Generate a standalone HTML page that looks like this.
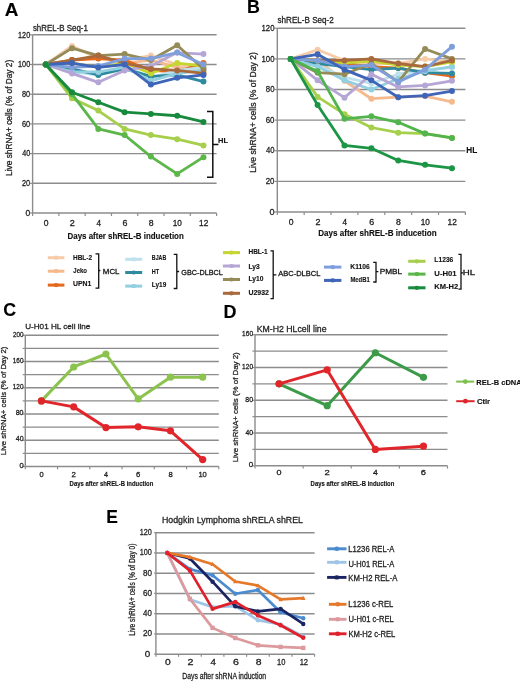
<!DOCTYPE html>
<html><head><meta charset="utf-8"><style>
html,body{margin:0;padding:0;background:#fff;}
body{width:520px;height:681px;overflow:hidden;}
svg{display:block;font-family:"Liberation Sans", sans-serif;will-change:transform;}
</style></head><body>
<svg width="520" height="681" viewBox="0 0 520 681">
<rect width="520" height="681" fill="#fff"/>
<text x="4.73" y="15.70" font-size="18.5" font-weight="bold" stroke="#000" stroke-width="0.12" fill="#000" textLength="13.67" lengthAdjust="spacingAndGlyphs">A</text>
<text x="32.88" y="30.60" font-size="8.6" stroke="#1e1e1e" stroke-width="0.28" fill="#1e1e1e" textLength="55.01" lengthAdjust="spacingAndGlyphs">shREL-B Seq-1</text>
<line x1="32.60" y1="183.30" x2="216.60" y2="183.30" stroke="#8c8c8c" stroke-width="1.4"/>
<line x1="32.60" y1="153.60" x2="216.60" y2="153.60" stroke="#8c8c8c" stroke-width="1.4"/>
<line x1="32.60" y1="123.90" x2="216.60" y2="123.90" stroke="#8c8c8c" stroke-width="1.4"/>
<line x1="32.60" y1="94.20" x2="216.60" y2="94.20" stroke="#8c8c8c" stroke-width="1.4"/>
<line x1="32.60" y1="64.50" x2="216.60" y2="64.50" stroke="#8c8c8c" stroke-width="1.4"/>
<line x1="32.60" y1="34.80" x2="216.60" y2="34.80" stroke="#8c8c8c" stroke-width="1.4"/>
<line x1="32.60" y1="34.80" x2="32.60" y2="213.00" stroke="#8c8c8c" stroke-width="1.4"/>
<line x1="32.60" y1="213.00" x2="216.60" y2="213.00" stroke="#8c8c8c" stroke-width="1.4"/>
<line x1="32.60" y1="213.00" x2="32.60" y2="216.00" stroke="#8c8c8c" stroke-width="1.2"/>
<line x1="58.89" y1="213.00" x2="58.89" y2="216.00" stroke="#8c8c8c" stroke-width="1.2"/>
<line x1="85.17" y1="213.00" x2="85.17" y2="216.00" stroke="#8c8c8c" stroke-width="1.2"/>
<line x1="111.46" y1="213.00" x2="111.46" y2="216.00" stroke="#8c8c8c" stroke-width="1.2"/>
<line x1="137.74" y1="213.00" x2="137.74" y2="216.00" stroke="#8c8c8c" stroke-width="1.2"/>
<line x1="164.03" y1="213.00" x2="164.03" y2="216.00" stroke="#8c8c8c" stroke-width="1.2"/>
<line x1="190.31" y1="213.00" x2="190.31" y2="216.00" stroke="#8c8c8c" stroke-width="1.2"/>
<line x1="216.60" y1="213.00" x2="216.60" y2="216.00" stroke="#8c8c8c" stroke-width="1.2"/>
<line x1="30.00" y1="213.00" x2="32.60" y2="213.00" stroke="#8c8c8c" stroke-width="1.2"/>
<text x="25.50" y="215.70" font-size="8.6" stroke="#1e1e1e" stroke-width="0.28" fill="#1e1e1e" textLength="4.73" lengthAdjust="spacingAndGlyphs">0</text>
<line x1="30.00" y1="183.30" x2="32.60" y2="183.30" stroke="#8c8c8c" stroke-width="1.2"/>
<text x="22.00" y="186.00" font-size="8.6" stroke="#1e1e1e" stroke-width="0.28" fill="#1e1e1e" textLength="8.19" lengthAdjust="spacingAndGlyphs">20</text>
<line x1="30.00" y1="153.60" x2="32.60" y2="153.60" stroke="#8c8c8c" stroke-width="1.2"/>
<text x="22.20" y="156.30" font-size="8.6" stroke="#1e1e1e" stroke-width="0.28" fill="#1e1e1e" textLength="7.98" lengthAdjust="spacingAndGlyphs">40</text>
<line x1="30.00" y1="123.90" x2="32.60" y2="123.90" stroke="#8c8c8c" stroke-width="1.2"/>
<text x="21.99" y="126.60" font-size="8.6" stroke="#1e1e1e" stroke-width="0.28" fill="#1e1e1e" textLength="8.20" lengthAdjust="spacingAndGlyphs">60</text>
<line x1="30.00" y1="94.20" x2="32.60" y2="94.20" stroke="#8c8c8c" stroke-width="1.2"/>
<text x="22.05" y="96.90" font-size="8.6" stroke="#1e1e1e" stroke-width="0.28" fill="#1e1e1e" textLength="8.14" lengthAdjust="spacingAndGlyphs">80</text>
<line x1="30.00" y1="64.50" x2="32.60" y2="64.50" stroke="#8c8c8c" stroke-width="1.2"/>
<text x="18.05" y="67.20" font-size="8.6" stroke="#1e1e1e" stroke-width="0.28" fill="#1e1e1e" textLength="12.14" lengthAdjust="spacingAndGlyphs">100</text>
<line x1="30.00" y1="34.80" x2="32.60" y2="34.80" stroke="#8c8c8c" stroke-width="1.2"/>
<text x="18.05" y="37.50" font-size="8.6" stroke="#1e1e1e" stroke-width="0.28" fill="#1e1e1e" textLength="12.14" lengthAdjust="spacingAndGlyphs">120</text>
<text x="43.66" y="225.60" font-size="8.2" stroke="#1e1e1e" stroke-width="0.28" fill="#1e1e1e" textLength="4.77" lengthAdjust="spacingAndGlyphs">0</text>
<text x="69.83" y="225.60" font-size="8.2" stroke="#1e1e1e" stroke-width="0.28" fill="#1e1e1e" textLength="5.01" lengthAdjust="spacingAndGlyphs">2</text>
<text x="96.38" y="225.60" font-size="8.2" stroke="#1e1e1e" stroke-width="0.28" fill="#1e1e1e" textLength="4.53" lengthAdjust="spacingAndGlyphs">4</text>
<text x="122.40" y="225.60" font-size="8.2" stroke="#1e1e1e" stroke-width="0.28" fill="#1e1e1e" textLength="4.94" lengthAdjust="spacingAndGlyphs">6</text>
<text x="148.76" y="225.60" font-size="8.2" stroke="#1e1e1e" stroke-width="0.28" fill="#1e1e1e" textLength="4.86" lengthAdjust="spacingAndGlyphs">8</text>
<text x="172.74" y="225.60" font-size="8.2" stroke="#1e1e1e" stroke-width="0.28" fill="#1e1e1e" textLength="9.15" lengthAdjust="spacingAndGlyphs">10</text>
<text x="199.02" y="225.60" font-size="8.2" stroke="#1e1e1e" stroke-width="0.28" fill="#1e1e1e" textLength="9.25" lengthAdjust="spacingAndGlyphs">12</text>
<polyline points="45.74,64.50 72.03,45.94 98.31,58.56 124.60,60.05 150.89,55.59 177.17,64.50 203.46,68.96" fill="none" stroke="#f8cba8" stroke-width="2.8" stroke-linejoin="round" stroke-linecap="round"/>
<circle cx="45.74" cy="64.50" r="3.0" fill="#f8cba8"/>
<circle cx="72.03" cy="45.94" r="3.0" fill="#f8cba8"/>
<circle cx="98.31" cy="58.56" r="3.0" fill="#f8cba8"/>
<circle cx="124.60" cy="60.05" r="3.0" fill="#f8cba8"/>
<circle cx="150.89" cy="55.59" r="3.0" fill="#f8cba8"/>
<circle cx="177.17" cy="64.50" r="3.0" fill="#f8cba8"/>
<circle cx="203.46" cy="68.96" r="3.0" fill="#f8cba8"/>
<polyline points="45.74,64.50 72.03,60.05 98.31,57.07 124.60,63.02 150.89,60.05 177.17,67.47 203.46,71.93" fill="none" stroke="#f5b98e" stroke-width="2.8" stroke-linejoin="round" stroke-linecap="round"/>
<circle cx="45.74" cy="64.50" r="3.0" fill="#f5b98e"/>
<circle cx="72.03" cy="60.05" r="3.0" fill="#f5b98e"/>
<circle cx="98.31" cy="57.07" r="3.0" fill="#f5b98e"/>
<circle cx="124.60" cy="63.02" r="3.0" fill="#f5b98e"/>
<circle cx="150.89" cy="60.05" r="3.0" fill="#f5b98e"/>
<circle cx="177.17" cy="67.47" r="3.0" fill="#f5b98e"/>
<circle cx="203.46" cy="71.93" r="3.0" fill="#f5b98e"/>
<polyline points="45.74,64.50 72.03,60.05 98.31,58.56 124.60,60.05 150.89,70.44 177.17,71.93 203.46,63.02" fill="none" stroke="#e2691f" stroke-width="2.8" stroke-linejoin="round" stroke-linecap="round"/>
<circle cx="45.74" cy="64.50" r="3.0" fill="#e2691f"/>
<circle cx="72.03" cy="60.05" r="3.0" fill="#e2691f"/>
<circle cx="98.31" cy="58.56" r="3.0" fill="#e2691f"/>
<circle cx="124.60" cy="60.05" r="3.0" fill="#e2691f"/>
<circle cx="150.89" cy="70.44" r="3.0" fill="#e2691f"/>
<circle cx="177.17" cy="71.93" r="3.0" fill="#e2691f"/>
<circle cx="203.46" cy="63.02" r="3.0" fill="#e2691f"/>
<polyline points="45.74,64.50 72.03,71.93 98.31,74.90 124.60,65.99 150.89,77.87 177.17,70.44 203.46,67.47" fill="none" stroke="#bde2ee" stroke-width="2.8" stroke-linejoin="round" stroke-linecap="round"/>
<circle cx="45.74" cy="64.50" r="3.0" fill="#bde2ee"/>
<circle cx="72.03" cy="71.93" r="3.0" fill="#bde2ee"/>
<circle cx="98.31" cy="74.90" r="3.0" fill="#bde2ee"/>
<circle cx="124.60" cy="65.99" r="3.0" fill="#bde2ee"/>
<circle cx="150.89" cy="77.87" r="3.0" fill="#bde2ee"/>
<circle cx="177.17" cy="70.44" r="3.0" fill="#bde2ee"/>
<circle cx="203.46" cy="67.47" r="3.0" fill="#bde2ee"/>
<polyline points="45.74,64.50 72.03,68.96 98.31,74.90 124.60,68.96 150.89,76.38 177.17,74.90 203.46,81.58" fill="none" stroke="#2f8a9f" stroke-width="2.8" stroke-linejoin="round" stroke-linecap="round"/>
<circle cx="45.74" cy="64.50" r="3.0" fill="#2f8a9f"/>
<circle cx="72.03" cy="68.96" r="3.0" fill="#2f8a9f"/>
<circle cx="98.31" cy="74.90" r="3.0" fill="#2f8a9f"/>
<circle cx="124.60" cy="68.96" r="3.0" fill="#2f8a9f"/>
<circle cx="150.89" cy="76.38" r="3.0" fill="#2f8a9f"/>
<circle cx="177.17" cy="74.90" r="3.0" fill="#2f8a9f"/>
<circle cx="203.46" cy="81.58" r="3.0" fill="#2f8a9f"/>
<polyline points="45.74,64.50 72.03,71.93 98.31,71.93 124.60,67.47 150.89,80.84 177.17,73.41 203.46,70.44" fill="none" stroke="#92cfe0" stroke-width="2.8" stroke-linejoin="round" stroke-linecap="round"/>
<circle cx="45.74" cy="64.50" r="3.0" fill="#92cfe0"/>
<circle cx="72.03" cy="71.93" r="3.0" fill="#92cfe0"/>
<circle cx="98.31" cy="71.93" r="3.0" fill="#92cfe0"/>
<circle cx="124.60" cy="67.47" r="3.0" fill="#92cfe0"/>
<circle cx="150.89" cy="80.84" r="3.0" fill="#92cfe0"/>
<circle cx="177.17" cy="73.41" r="3.0" fill="#92cfe0"/>
<circle cx="203.46" cy="70.44" r="3.0" fill="#92cfe0"/>
<polyline points="45.74,64.50 72.03,63.02 98.31,67.47 124.60,63.02 150.89,73.41 177.17,63.02 203.46,65.99" fill="none" stroke="#c5d633" stroke-width="2.8" stroke-linejoin="round" stroke-linecap="round"/>
<circle cx="45.74" cy="64.50" r="3.0" fill="#c5d633"/>
<circle cx="72.03" cy="63.02" r="3.0" fill="#c5d633"/>
<circle cx="98.31" cy="67.47" r="3.0" fill="#c5d633"/>
<circle cx="124.60" cy="63.02" r="3.0" fill="#c5d633"/>
<circle cx="150.89" cy="73.41" r="3.0" fill="#c5d633"/>
<circle cx="177.17" cy="63.02" r="3.0" fill="#c5d633"/>
<circle cx="203.46" cy="65.99" r="3.0" fill="#c5d633"/>
<polyline points="45.74,64.50 72.03,73.41 98.31,82.32 124.60,70.44 150.89,65.99 177.17,52.62 203.46,54.11" fill="none" stroke="#b5a6d5" stroke-width="2.8" stroke-linejoin="round" stroke-linecap="round"/>
<circle cx="45.74" cy="64.50" r="3.0" fill="#b5a6d5"/>
<circle cx="72.03" cy="73.41" r="3.0" fill="#b5a6d5"/>
<circle cx="98.31" cy="82.32" r="3.0" fill="#b5a6d5"/>
<circle cx="124.60" cy="70.44" r="3.0" fill="#b5a6d5"/>
<circle cx="150.89" cy="65.99" r="3.0" fill="#b5a6d5"/>
<circle cx="177.17" cy="52.62" r="3.0" fill="#b5a6d5"/>
<circle cx="203.46" cy="54.11" r="3.0" fill="#b5a6d5"/>
<polyline points="45.74,64.50 72.03,48.17 98.31,55.59 124.60,54.11 150.89,60.05 177.17,45.20 203.46,68.96" fill="none" stroke="#958b58" stroke-width="2.8" stroke-linejoin="round" stroke-linecap="round"/>
<circle cx="45.74" cy="64.50" r="3.0" fill="#958b58"/>
<circle cx="72.03" cy="48.17" r="3.0" fill="#958b58"/>
<circle cx="98.31" cy="55.59" r="3.0" fill="#958b58"/>
<circle cx="124.60" cy="54.11" r="3.0" fill="#958b58"/>
<circle cx="150.89" cy="60.05" r="3.0" fill="#958b58"/>
<circle cx="177.17" cy="45.20" r="3.0" fill="#958b58"/>
<circle cx="203.46" cy="68.96" r="3.0" fill="#958b58"/>
<polyline points="45.74,64.50 72.03,60.05 98.31,55.59 124.60,63.02 150.89,68.96 177.17,70.44 203.46,73.41" fill="none" stroke="#a86a3c" stroke-width="2.8" stroke-linejoin="round" stroke-linecap="round"/>
<circle cx="45.74" cy="64.50" r="3.0" fill="#a86a3c"/>
<circle cx="72.03" cy="60.05" r="3.0" fill="#a86a3c"/>
<circle cx="98.31" cy="55.59" r="3.0" fill="#a86a3c"/>
<circle cx="124.60" cy="63.02" r="3.0" fill="#a86a3c"/>
<circle cx="150.89" cy="68.96" r="3.0" fill="#a86a3c"/>
<circle cx="177.17" cy="70.44" r="3.0" fill="#a86a3c"/>
<circle cx="203.46" cy="73.41" r="3.0" fill="#a86a3c"/>
<polyline points="45.74,64.50 72.03,67.47 98.31,65.99 124.60,58.56 150.89,58.56 177.17,52.62 203.46,64.50" fill="none" stroke="#7f9fdc" stroke-width="2.8" stroke-linejoin="round" stroke-linecap="round"/>
<circle cx="45.74" cy="64.50" r="3.0" fill="#7f9fdc"/>
<circle cx="72.03" cy="67.47" r="3.0" fill="#7f9fdc"/>
<circle cx="98.31" cy="65.99" r="3.0" fill="#7f9fdc"/>
<circle cx="124.60" cy="58.56" r="3.0" fill="#7f9fdc"/>
<circle cx="150.89" cy="58.56" r="3.0" fill="#7f9fdc"/>
<circle cx="177.17" cy="52.62" r="3.0" fill="#7f9fdc"/>
<circle cx="203.46" cy="64.50" r="3.0" fill="#7f9fdc"/>
<polyline points="45.74,64.50 72.03,63.02 98.31,67.47 124.60,64.50 150.89,84.55 177.17,77.87 203.46,74.90" fill="none" stroke="#3f65b9" stroke-width="2.8" stroke-linejoin="round" stroke-linecap="round"/>
<circle cx="45.74" cy="64.50" r="3.0" fill="#3f65b9"/>
<circle cx="72.03" cy="63.02" r="3.0" fill="#3f65b9"/>
<circle cx="98.31" cy="67.47" r="3.0" fill="#3f65b9"/>
<circle cx="124.60" cy="64.50" r="3.0" fill="#3f65b9"/>
<circle cx="150.89" cy="84.55" r="3.0" fill="#3f65b9"/>
<circle cx="177.17" cy="77.87" r="3.0" fill="#3f65b9"/>
<circle cx="203.46" cy="74.90" r="3.0" fill="#3f65b9"/>
<polyline points="45.74,64.50 72.03,98.36 98.31,110.54 124.60,128.95 150.89,135.04 177.17,139.20 203.46,145.43" fill="none" stroke="#a6cf4c" stroke-width="2.8" stroke-linejoin="round" stroke-linecap="round"/>
<circle cx="45.74" cy="64.50" r="3.0" fill="#a6cf4c"/>
<circle cx="72.03" cy="98.36" r="3.0" fill="#a6cf4c"/>
<circle cx="98.31" cy="110.54" r="3.0" fill="#a6cf4c"/>
<circle cx="124.60" cy="128.95" r="3.0" fill="#a6cf4c"/>
<circle cx="150.89" cy="135.04" r="3.0" fill="#a6cf4c"/>
<circle cx="177.17" cy="139.20" r="3.0" fill="#a6cf4c"/>
<circle cx="203.46" cy="145.43" r="3.0" fill="#a6cf4c"/>
<polyline points="45.74,64.50 72.03,94.20 98.31,128.95 124.60,135.04 150.89,156.57 177.17,173.94 203.46,157.16" fill="none" stroke="#5cb649" stroke-width="2.8" stroke-linejoin="round" stroke-linecap="round"/>
<circle cx="45.74" cy="64.50" r="3.0" fill="#5cb649"/>
<circle cx="72.03" cy="94.20" r="3.0" fill="#5cb649"/>
<circle cx="98.31" cy="128.95" r="3.0" fill="#5cb649"/>
<circle cx="124.60" cy="135.04" r="3.0" fill="#5cb649"/>
<circle cx="150.89" cy="156.57" r="3.0" fill="#5cb649"/>
<circle cx="177.17" cy="173.94" r="3.0" fill="#5cb649"/>
<circle cx="203.46" cy="157.16" r="3.0" fill="#5cb649"/>
<polyline points="45.74,64.50 72.03,92.27 98.31,102.22 124.60,112.17 150.89,113.95 177.17,115.73 203.46,121.97" fill="none" stroke="#188a3d" stroke-width="2.8" stroke-linejoin="round" stroke-linecap="round"/>
<circle cx="45.74" cy="64.50" r="3.0" fill="#188a3d"/>
<circle cx="72.03" cy="92.27" r="3.0" fill="#188a3d"/>
<circle cx="98.31" cy="102.22" r="3.0" fill="#188a3d"/>
<circle cx="124.60" cy="112.17" r="3.0" fill="#188a3d"/>
<circle cx="150.89" cy="113.95" r="3.0" fill="#188a3d"/>
<circle cx="177.17" cy="115.73" r="3.0" fill="#188a3d"/>
<circle cx="203.46" cy="121.97" r="3.0" fill="#188a3d"/>
<text x="67.57" y="239.10" font-size="8.8" font-weight="bold" stroke="#111" stroke-width="0.12" fill="#111" textLength="116.22" lengthAdjust="spacingAndGlyphs">Days after shREL-B inducetion</text>
<text x="12.50" y="175.88" font-size="8.8" stroke="#1e1e1e" stroke-width="0.28" fill="#1e1e1e" textLength="116.10" lengthAdjust="spacingAndGlyphs" transform="rotate(-90 12.50 175.88)">Live shRNA+ cells (% of Day 2)</text>
<path d="M207,111.6 H212.8 V177.3 H207 M212.8,144.6 H218.4" fill="none" stroke="#111" stroke-width="1.5"/>
<text x="218.10" y="142.80" font-size="7.9" font-weight="bold" stroke="#111" stroke-width="0.12" fill="#111" textLength="9.93" lengthAdjust="spacingAndGlyphs">HL</text>
<text x="246.90" y="12.60" font-size="18.5" font-weight="bold" stroke="#000" stroke-width="0.12" fill="#000" textLength="12.91" lengthAdjust="spacingAndGlyphs">B</text>
<text x="277.58" y="23.40" font-size="8.6" stroke="#1e1e1e" stroke-width="0.28" fill="#1e1e1e" textLength="56.13" lengthAdjust="spacingAndGlyphs">shREL-B Seq-2</text>
<line x1="277.30" y1="181.38" x2="465.40" y2="181.38" stroke="#8c8c8c" stroke-width="1.4"/>
<line x1="277.30" y1="150.77" x2="465.40" y2="150.77" stroke="#8c8c8c" stroke-width="1.4"/>
<line x1="277.30" y1="120.15" x2="465.40" y2="120.15" stroke="#8c8c8c" stroke-width="1.4"/>
<line x1="277.30" y1="89.53" x2="465.40" y2="89.53" stroke="#8c8c8c" stroke-width="1.4"/>
<line x1="277.30" y1="58.92" x2="465.40" y2="58.92" stroke="#8c8c8c" stroke-width="1.4"/>
<line x1="277.30" y1="28.30" x2="465.40" y2="28.30" stroke="#8c8c8c" stroke-width="1.4"/>
<line x1="277.30" y1="28.30" x2="277.30" y2="212.00" stroke="#8c8c8c" stroke-width="1.4"/>
<line x1="277.30" y1="212.00" x2="465.40" y2="212.00" stroke="#8c8c8c" stroke-width="1.4"/>
<line x1="277.30" y1="212.00" x2="277.30" y2="215.00" stroke="#8c8c8c" stroke-width="1.2"/>
<line x1="304.17" y1="212.00" x2="304.17" y2="215.00" stroke="#8c8c8c" stroke-width="1.2"/>
<line x1="331.04" y1="212.00" x2="331.04" y2="215.00" stroke="#8c8c8c" stroke-width="1.2"/>
<line x1="357.91" y1="212.00" x2="357.91" y2="215.00" stroke="#8c8c8c" stroke-width="1.2"/>
<line x1="384.79" y1="212.00" x2="384.79" y2="215.00" stroke="#8c8c8c" stroke-width="1.2"/>
<line x1="411.66" y1="212.00" x2="411.66" y2="215.00" stroke="#8c8c8c" stroke-width="1.2"/>
<line x1="438.53" y1="212.00" x2="438.53" y2="215.00" stroke="#8c8c8c" stroke-width="1.2"/>
<line x1="465.40" y1="212.00" x2="465.40" y2="215.00" stroke="#8c8c8c" stroke-width="1.2"/>
<line x1="274.70" y1="212.00" x2="277.30" y2="212.00" stroke="#8c8c8c" stroke-width="1.2"/>
<text x="269.49" y="214.70" font-size="8.6" stroke="#1e1e1e" stroke-width="0.28" fill="#1e1e1e" textLength="5.07" lengthAdjust="spacingAndGlyphs">0</text>
<line x1="274.70" y1="181.38" x2="277.30" y2="181.38" stroke="#8c8c8c" stroke-width="1.2"/>
<text x="265.74" y="184.08" font-size="8.6" stroke="#1e1e1e" stroke-width="0.28" fill="#1e1e1e" textLength="8.77" lengthAdjust="spacingAndGlyphs">20</text>
<line x1="274.70" y1="150.77" x2="277.30" y2="150.77" stroke="#8c8c8c" stroke-width="1.2"/>
<text x="265.96" y="153.47" font-size="8.6" stroke="#1e1e1e" stroke-width="0.28" fill="#1e1e1e" textLength="8.54" lengthAdjust="spacingAndGlyphs">40</text>
<line x1="274.70" y1="120.15" x2="277.30" y2="120.15" stroke="#8c8c8c" stroke-width="1.2"/>
<text x="265.73" y="122.85" font-size="8.6" stroke="#1e1e1e" stroke-width="0.28" fill="#1e1e1e" textLength="8.78" lengthAdjust="spacingAndGlyphs">60</text>
<line x1="274.70" y1="89.53" x2="277.30" y2="89.53" stroke="#8c8c8c" stroke-width="1.2"/>
<text x="265.79" y="92.23" font-size="8.6" stroke="#1e1e1e" stroke-width="0.28" fill="#1e1e1e" textLength="8.71" lengthAdjust="spacingAndGlyphs">80</text>
<line x1="274.70" y1="58.92" x2="277.30" y2="58.92" stroke="#8c8c8c" stroke-width="1.2"/>
<text x="261.51" y="61.62" font-size="8.6" stroke="#1e1e1e" stroke-width="0.28" fill="#1e1e1e" textLength="13.00" lengthAdjust="spacingAndGlyphs">100</text>
<line x1="274.70" y1="28.30" x2="277.30" y2="28.30" stroke="#8c8c8c" stroke-width="1.2"/>
<text x="261.51" y="31.00" font-size="8.6" stroke="#1e1e1e" stroke-width="0.28" fill="#1e1e1e" textLength="13.00" lengthAdjust="spacingAndGlyphs">120</text>
<text x="288.65" y="225.10" font-size="8.2" stroke="#1e1e1e" stroke-width="0.28" fill="#1e1e1e" textLength="4.77" lengthAdjust="spacingAndGlyphs">0</text>
<text x="315.40" y="225.10" font-size="8.2" stroke="#1e1e1e" stroke-width="0.28" fill="#1e1e1e" textLength="5.01" lengthAdjust="spacingAndGlyphs">2</text>
<text x="342.54" y="225.10" font-size="8.2" stroke="#1e1e1e" stroke-width="0.28" fill="#1e1e1e" textLength="4.53" lengthAdjust="spacingAndGlyphs">4</text>
<text x="369.15" y="225.10" font-size="8.2" stroke="#1e1e1e" stroke-width="0.28" fill="#1e1e1e" textLength="4.94" lengthAdjust="spacingAndGlyphs">6</text>
<text x="396.09" y="225.10" font-size="8.2" stroke="#1e1e1e" stroke-width="0.28" fill="#1e1e1e" textLength="4.86" lengthAdjust="spacingAndGlyphs">8</text>
<text x="420.67" y="225.10" font-size="8.2" stroke="#1e1e1e" stroke-width="0.28" fill="#1e1e1e" textLength="9.15" lengthAdjust="spacingAndGlyphs">10</text>
<text x="447.53" y="225.10" font-size="8.2" stroke="#1e1e1e" stroke-width="0.28" fill="#1e1e1e" textLength="9.25" lengthAdjust="spacingAndGlyphs">12</text>
<polyline points="290.74,58.92 317.61,49.73 344.48,60.45 371.35,63.51 398.22,63.51 425.09,58.92 451.96,61.98" fill="none" stroke="#f8cba8" stroke-width="2.8" stroke-linejoin="round" stroke-linecap="round"/>
<circle cx="290.74" cy="58.92" r="3.0" fill="#f8cba8"/>
<circle cx="317.61" cy="49.73" r="3.0" fill="#f8cba8"/>
<circle cx="344.48" cy="60.45" r="3.0" fill="#f8cba8"/>
<circle cx="371.35" cy="63.51" r="3.0" fill="#f8cba8"/>
<circle cx="398.22" cy="63.51" r="3.0" fill="#f8cba8"/>
<circle cx="425.09" cy="58.92" r="3.0" fill="#f8cba8"/>
<circle cx="451.96" cy="61.98" r="3.0" fill="#f8cba8"/>
<polyline points="290.74,58.92 317.61,60.45 344.48,80.81 371.35,98.72 398.22,97.19 425.09,96.12 451.96,101.78" fill="none" stroke="#f5b98e" stroke-width="2.8" stroke-linejoin="round" stroke-linecap="round"/>
<circle cx="290.74" cy="58.92" r="3.0" fill="#f5b98e"/>
<circle cx="317.61" cy="60.45" r="3.0" fill="#f5b98e"/>
<circle cx="344.48" cy="80.81" r="3.0" fill="#f5b98e"/>
<circle cx="371.35" cy="98.72" r="3.0" fill="#f5b98e"/>
<circle cx="398.22" cy="97.19" r="3.0" fill="#f5b98e"/>
<circle cx="425.09" cy="96.12" r="3.0" fill="#f5b98e"/>
<circle cx="451.96" cy="101.78" r="3.0" fill="#f5b98e"/>
<polyline points="290.74,58.92 317.61,60.45 344.48,63.51 371.35,66.57 398.22,68.10 425.09,72.69 451.96,76.22" fill="none" stroke="#e2691f" stroke-width="2.8" stroke-linejoin="round" stroke-linecap="round"/>
<circle cx="290.74" cy="58.92" r="3.0" fill="#e2691f"/>
<circle cx="317.61" cy="60.45" r="3.0" fill="#e2691f"/>
<circle cx="344.48" cy="63.51" r="3.0" fill="#e2691f"/>
<circle cx="371.35" cy="66.57" r="3.0" fill="#e2691f"/>
<circle cx="398.22" cy="68.10" r="3.0" fill="#e2691f"/>
<circle cx="425.09" cy="72.69" r="3.0" fill="#e2691f"/>
<circle cx="451.96" cy="76.22" r="3.0" fill="#e2691f"/>
<polyline points="290.74,58.92 317.61,65.04 344.48,77.29 371.35,83.41 398.22,74.22 425.09,69.63 451.96,67.64" fill="none" stroke="#bde2ee" stroke-width="2.8" stroke-linejoin="round" stroke-linecap="round"/>
<circle cx="290.74" cy="58.92" r="3.0" fill="#bde2ee"/>
<circle cx="317.61" cy="65.04" r="3.0" fill="#bde2ee"/>
<circle cx="344.48" cy="77.29" r="3.0" fill="#bde2ee"/>
<circle cx="371.35" cy="83.41" r="3.0" fill="#bde2ee"/>
<circle cx="398.22" cy="74.22" r="3.0" fill="#bde2ee"/>
<circle cx="425.09" cy="69.63" r="3.0" fill="#bde2ee"/>
<circle cx="451.96" cy="67.64" r="3.0" fill="#bde2ee"/>
<polyline points="290.74,58.92 317.61,63.51 344.48,66.57 371.35,69.63 398.22,68.10 425.09,72.69 451.96,73.46" fill="none" stroke="#2f8a9f" stroke-width="2.8" stroke-linejoin="round" stroke-linecap="round"/>
<circle cx="290.74" cy="58.92" r="3.0" fill="#2f8a9f"/>
<circle cx="317.61" cy="63.51" r="3.0" fill="#2f8a9f"/>
<circle cx="344.48" cy="66.57" r="3.0" fill="#2f8a9f"/>
<circle cx="371.35" cy="69.63" r="3.0" fill="#2f8a9f"/>
<circle cx="398.22" cy="68.10" r="3.0" fill="#2f8a9f"/>
<circle cx="425.09" cy="72.69" r="3.0" fill="#2f8a9f"/>
<circle cx="451.96" cy="73.46" r="3.0" fill="#2f8a9f"/>
<polyline points="290.74,58.92 317.61,66.57 344.48,80.35 371.35,89.53 398.22,78.82 425.09,71.16 451.96,66.57" fill="none" stroke="#92cfe0" stroke-width="2.8" stroke-linejoin="round" stroke-linecap="round"/>
<circle cx="290.74" cy="58.92" r="3.0" fill="#92cfe0"/>
<circle cx="317.61" cy="66.57" r="3.0" fill="#92cfe0"/>
<circle cx="344.48" cy="80.35" r="3.0" fill="#92cfe0"/>
<circle cx="371.35" cy="89.53" r="3.0" fill="#92cfe0"/>
<circle cx="398.22" cy="78.82" r="3.0" fill="#92cfe0"/>
<circle cx="425.09" cy="71.16" r="3.0" fill="#92cfe0"/>
<circle cx="451.96" cy="66.57" r="3.0" fill="#92cfe0"/>
<polyline points="290.74,58.92 317.61,60.45 344.48,62.74 371.35,61.21 398.22,65.04 425.09,66.57 451.96,61.98" fill="none" stroke="#c5d633" stroke-width="2.8" stroke-linejoin="round" stroke-linecap="round"/>
<circle cx="290.74" cy="58.92" r="3.0" fill="#c5d633"/>
<circle cx="317.61" cy="60.45" r="3.0" fill="#c5d633"/>
<circle cx="344.48" cy="62.74" r="3.0" fill="#c5d633"/>
<circle cx="371.35" cy="61.21" r="3.0" fill="#c5d633"/>
<circle cx="398.22" cy="65.04" r="3.0" fill="#c5d633"/>
<circle cx="425.09" cy="66.57" r="3.0" fill="#c5d633"/>
<circle cx="451.96" cy="61.98" r="3.0" fill="#c5d633"/>
<polyline points="290.74,58.92 317.61,80.35 344.48,97.65 371.35,74.22 398.22,86.93 425.09,85.40 451.96,80.81" fill="none" stroke="#b5a6d5" stroke-width="2.8" stroke-linejoin="round" stroke-linecap="round"/>
<circle cx="290.74" cy="58.92" r="3.0" fill="#b5a6d5"/>
<circle cx="317.61" cy="80.35" r="3.0" fill="#b5a6d5"/>
<circle cx="344.48" cy="97.65" r="3.0" fill="#b5a6d5"/>
<circle cx="371.35" cy="74.22" r="3.0" fill="#b5a6d5"/>
<circle cx="398.22" cy="86.93" r="3.0" fill="#b5a6d5"/>
<circle cx="425.09" cy="85.40" r="3.0" fill="#b5a6d5"/>
<circle cx="451.96" cy="80.81" r="3.0" fill="#b5a6d5"/>
<polyline points="290.74,58.92 317.61,72.69 344.48,74.22 371.35,63.51 398.22,81.88 425.09,48.97 451.96,58.92" fill="none" stroke="#958b58" stroke-width="2.8" stroke-linejoin="round" stroke-linecap="round"/>
<circle cx="290.74" cy="58.92" r="3.0" fill="#958b58"/>
<circle cx="317.61" cy="72.69" r="3.0" fill="#958b58"/>
<circle cx="344.48" cy="74.22" r="3.0" fill="#958b58"/>
<circle cx="371.35" cy="63.51" r="3.0" fill="#958b58"/>
<circle cx="398.22" cy="81.88" r="3.0" fill="#958b58"/>
<circle cx="425.09" cy="48.97" r="3.0" fill="#958b58"/>
<circle cx="451.96" cy="58.92" r="3.0" fill="#958b58"/>
<polyline points="290.74,58.92 317.61,60.45 344.48,60.45 371.35,58.92 398.22,63.51 425.09,66.57 451.96,60.45" fill="none" stroke="#a86a3c" stroke-width="2.8" stroke-linejoin="round" stroke-linecap="round"/>
<circle cx="290.74" cy="58.92" r="3.0" fill="#a86a3c"/>
<circle cx="317.61" cy="60.45" r="3.0" fill="#a86a3c"/>
<circle cx="344.48" cy="60.45" r="3.0" fill="#a86a3c"/>
<circle cx="371.35" cy="58.92" r="3.0" fill="#a86a3c"/>
<circle cx="398.22" cy="63.51" r="3.0" fill="#a86a3c"/>
<circle cx="425.09" cy="66.57" r="3.0" fill="#a86a3c"/>
<circle cx="451.96" cy="60.45" r="3.0" fill="#a86a3c"/>
<polyline points="290.74,58.92 317.61,60.45 344.48,66.57 371.35,65.04 398.22,81.88 425.09,69.63 451.96,46.67" fill="none" stroke="#7f9fdc" stroke-width="2.8" stroke-linejoin="round" stroke-linecap="round"/>
<circle cx="290.74" cy="58.92" r="3.0" fill="#7f9fdc"/>
<circle cx="317.61" cy="60.45" r="3.0" fill="#7f9fdc"/>
<circle cx="344.48" cy="66.57" r="3.0" fill="#7f9fdc"/>
<circle cx="371.35" cy="65.04" r="3.0" fill="#7f9fdc"/>
<circle cx="398.22" cy="81.88" r="3.0" fill="#7f9fdc"/>
<circle cx="425.09" cy="69.63" r="3.0" fill="#7f9fdc"/>
<circle cx="451.96" cy="46.67" r="3.0" fill="#7f9fdc"/>
<polyline points="290.74,58.92 317.61,54.32 344.48,69.63 371.35,80.35 398.22,97.19 425.09,95.66 451.96,91.06" fill="none" stroke="#3f65b9" stroke-width="2.8" stroke-linejoin="round" stroke-linecap="round"/>
<circle cx="290.74" cy="58.92" r="3.0" fill="#3f65b9"/>
<circle cx="317.61" cy="54.32" r="3.0" fill="#3f65b9"/>
<circle cx="344.48" cy="69.63" r="3.0" fill="#3f65b9"/>
<circle cx="371.35" cy="80.35" r="3.0" fill="#3f65b9"/>
<circle cx="398.22" cy="97.19" r="3.0" fill="#3f65b9"/>
<circle cx="425.09" cy="95.66" r="3.0" fill="#3f65b9"/>
<circle cx="451.96" cy="91.06" r="3.0" fill="#3f65b9"/>
<polyline points="290.74,58.92 317.61,96.88 344.48,114.18 371.35,127.50 398.22,132.70 425.09,133.62 451.96,137.91" fill="none" stroke="#a6cf4c" stroke-width="2.8" stroke-linejoin="round" stroke-linecap="round"/>
<circle cx="290.74" cy="58.92" r="3.0" fill="#a6cf4c"/>
<circle cx="317.61" cy="96.88" r="3.0" fill="#a6cf4c"/>
<circle cx="344.48" cy="114.18" r="3.0" fill="#a6cf4c"/>
<circle cx="371.35" cy="127.50" r="3.0" fill="#a6cf4c"/>
<circle cx="398.22" cy="132.70" r="3.0" fill="#a6cf4c"/>
<circle cx="425.09" cy="133.62" r="3.0" fill="#a6cf4c"/>
<circle cx="451.96" cy="137.91" r="3.0" fill="#a6cf4c"/>
<polyline points="290.74,58.92 317.61,71.32 344.48,118.77 371.35,116.32 398.22,122.29 425.09,133.62 451.96,137.91" fill="none" stroke="#52b44c" stroke-width="2.8" stroke-linejoin="round" stroke-linecap="round"/>
<circle cx="290.74" cy="58.92" r="3.0" fill="#52b44c"/>
<circle cx="317.61" cy="71.32" r="3.0" fill="#52b44c"/>
<circle cx="344.48" cy="118.77" r="3.0" fill="#52b44c"/>
<circle cx="371.35" cy="116.32" r="3.0" fill="#52b44c"/>
<circle cx="398.22" cy="122.29" r="3.0" fill="#52b44c"/>
<circle cx="425.09" cy="133.62" r="3.0" fill="#52b44c"/>
<circle cx="451.96" cy="137.91" r="3.0" fill="#52b44c"/>
<polyline points="290.74,58.92 317.61,104.99 344.48,145.41 371.35,148.32 398.22,160.41 425.09,164.85 451.96,168.22" fill="none" stroke="#1c9545" stroke-width="2.8" stroke-linejoin="round" stroke-linecap="round"/>
<circle cx="290.74" cy="58.92" r="3.0" fill="#1c9545"/>
<circle cx="317.61" cy="104.99" r="3.0" fill="#1c9545"/>
<circle cx="344.48" cy="145.41" r="3.0" fill="#1c9545"/>
<circle cx="371.35" cy="148.32" r="3.0" fill="#1c9545"/>
<circle cx="398.22" cy="160.41" r="3.0" fill="#1c9545"/>
<circle cx="425.09" cy="164.85" r="3.0" fill="#1c9545"/>
<circle cx="451.96" cy="168.22" r="3.0" fill="#1c9545"/>
<text x="318.21" y="236.00" font-size="8.8" font-weight="bold" stroke="#111" stroke-width="0.12" fill="#111" textLength="118.39" lengthAdjust="spacingAndGlyphs">Days after shREL-B inducetion</text>
<text x="256.00" y="172.71" font-size="8.8" stroke="#1e1e1e" stroke-width="0.28" fill="#1e1e1e" textLength="120.54" lengthAdjust="spacingAndGlyphs" transform="rotate(-90 256.00 172.71)">Live shRNA+ cells (% of Day 2)</text>
<text x="466.25" y="153.00" font-size="8.7" font-weight="bold" stroke="#111" stroke-width="0.12" fill="#111" textLength="10.90" lengthAdjust="spacingAndGlyphs">HL</text>
<line x1="47.8" y1="257.7" x2="64.4" y2="257.7" stroke="#f8cba8" stroke-width="3.0"/>
<ellipse cx="56.10" cy="257.7" rx="2.6" ry="2.1" fill="#f8cba8"/>
<text x="72.96" y="259.70" font-size="7.7" font-weight="bold" stroke="#111" stroke-width="0.12" fill="#111" textLength="19.20" lengthAdjust="spacingAndGlyphs">HBL-2</text>
<line x1="47.8" y1="271.2" x2="64.4" y2="271.2" stroke="#f5b98e" stroke-width="3.0"/>
<ellipse cx="56.10" cy="271.2" rx="2.6" ry="2.1" fill="#f5b98e"/>
<text x="73.31" y="273.20" font-size="7.7" font-weight="bold" stroke="#111" stroke-width="0.12" fill="#111" textLength="13.73" lengthAdjust="spacingAndGlyphs">Jeko</text>
<line x1="47.8" y1="285.1" x2="64.4" y2="285.1" stroke="#e2691f" stroke-width="3.0"/>
<ellipse cx="56.10" cy="285.1" rx="2.6" ry="2.1" fill="#e2691f"/>
<text x="72.99" y="286.10" font-size="7.7" font-weight="bold" stroke="#111" stroke-width="0.12" fill="#111" textLength="18.41" lengthAdjust="spacingAndGlyphs">UPN1</text>
<path d="M95.50,253.8 H98.7 V288.2 H95.50 M98.7,270.5 H100.30" fill="none" stroke="#111" stroke-width="1.3"/>
<text x="102.85" y="273.70" font-size="8.0" stroke="#111" stroke-width="0.28" fill="#111" textLength="16.61" lengthAdjust="spacingAndGlyphs">MCL</text>
<line x1="125.2" y1="259.3" x2="142.2" y2="259.3" stroke="#bde2ee" stroke-width="3.0"/>
<ellipse cx="133.70" cy="259.3" rx="2.6" ry="2.1" fill="#bde2ee"/>
<text x="151.85" y="260.00" font-size="7.7" font-weight="bold" stroke="#111" stroke-width="0.12" fill="#111" textLength="14.39" lengthAdjust="spacingAndGlyphs">BJAB</text>
<line x1="125.2" y1="272.5" x2="142.2" y2="272.5" stroke="#2f8a9f" stroke-width="3.0"/>
<ellipse cx="133.70" cy="272.5" rx="2.6" ry="2.1" fill="#2f8a9f"/>
<text x="151.83" y="273.80" font-size="7.7" font-weight="bold" stroke="#111" stroke-width="0.12" fill="#111" textLength="7.33" lengthAdjust="spacingAndGlyphs">HT</text>
<line x1="125.2" y1="286.1" x2="142.2" y2="286.1" stroke="#92cfe0" stroke-width="3.0"/>
<ellipse cx="133.70" cy="286.1" rx="2.6" ry="2.1" fill="#92cfe0"/>
<text x="151.78" y="286.90" font-size="7.7" font-weight="bold" stroke="#111" stroke-width="0.12" fill="#111" textLength="14.46" lengthAdjust="spacingAndGlyphs">Ly19</text>
<path d="M173.70,254.3 H176.8 V288.5 H173.70 M176.8,271.5 H179.10" fill="none" stroke="#111" stroke-width="1.3"/>
<text x="181.34" y="274.60" font-size="8.0" stroke="#111" stroke-width="0.28" fill="#111" textLength="41.51" lengthAdjust="spacingAndGlyphs">GBC-DLBCL</text>
<line x1="222.9" y1="252.6" x2="240.0" y2="252.6" stroke="#c5d633" stroke-width="3.0"/>
<ellipse cx="231.45" cy="252.6" rx="2.6" ry="2.1" fill="#c5d633"/>
<text x="248.47" y="254.00" font-size="7.7" font-weight="bold" stroke="#111" stroke-width="0.12" fill="#111" textLength="19.11" lengthAdjust="spacingAndGlyphs">HBL-1</text>
<line x1="222.9" y1="266.0" x2="240.0" y2="266.0" stroke="#b5a6d5" stroke-width="3.0"/>
<ellipse cx="231.45" cy="266.0" rx="2.6" ry="2.1" fill="#b5a6d5"/>
<text x="248.47" y="268.60" font-size="7.7" font-weight="bold" stroke="#111" stroke-width="0.12" fill="#111" textLength="11.17" lengthAdjust="spacingAndGlyphs">Ly3</text>
<line x1="222.9" y1="279.5" x2="240.0" y2="279.5" stroke="#958b58" stroke-width="3.0"/>
<ellipse cx="231.45" cy="279.5" rx="2.6" ry="2.1" fill="#958b58"/>
<text x="248.46" y="281.40" font-size="7.7" font-weight="bold" stroke="#111" stroke-width="0.12" fill="#111" textLength="15.01" lengthAdjust="spacingAndGlyphs">Ly10</text>
<line x1="222.9" y1="293.3" x2="240.0" y2="293.3" stroke="#a86a3c" stroke-width="3.0"/>
<ellipse cx="231.45" cy="293.3" rx="2.6" ry="2.1" fill="#a86a3c"/>
<text x="248.48" y="294.80" font-size="7.7" font-weight="bold" stroke="#111" stroke-width="0.12" fill="#111" textLength="20.39" lengthAdjust="spacingAndGlyphs">U2932</text>
<path d="M270.50,250.9 H273.2 V298.6 H270.50 M273.2,274.8 H276.30" fill="none" stroke="#111" stroke-width="1.3"/>
<text x="278.19" y="275.50" font-size="8.0" stroke="#111" stroke-width="0.28" fill="#111" textLength="42.26" lengthAdjust="spacingAndGlyphs">ABC-DLBCL</text>
<line x1="324.0" y1="267.1" x2="341.4" y2="267.1" stroke="#7f9fdc" stroke-width="3.0"/>
<ellipse cx="332.70" cy="267.1" rx="2.6" ry="2.1" fill="#7f9fdc"/>
<text x="350.36" y="268.70" font-size="7.7" font-weight="bold" stroke="#111" stroke-width="0.12" fill="#111" textLength="19.48" lengthAdjust="spacingAndGlyphs">K1106</text>
<line x1="324.0" y1="280.4" x2="341.4" y2="280.4" stroke="#3f65b9" stroke-width="3.0"/>
<ellipse cx="332.70" cy="280.4" rx="2.6" ry="2.1" fill="#3f65b9"/>
<text x="350.40" y="281.80" font-size="7.7" font-weight="bold" stroke="#111" stroke-width="0.12" fill="#111" textLength="19.36" lengthAdjust="spacingAndGlyphs">MedB1</text>
<path d="M373.20,262.3 H376.0 V282.0 H373.20 M376.0,271.6 H378.40" fill="none" stroke="#111" stroke-width="1.3"/>
<text x="379.72" y="274.30" font-size="8.0" stroke="#111" stroke-width="0.28" fill="#111" textLength="22.45" lengthAdjust="spacingAndGlyphs">PMBL</text>
<line x1="408.2" y1="261.3" x2="425.5" y2="261.3" stroke="#a6cf4c" stroke-width="3.0"/>
<ellipse cx="416.85" cy="261.3" rx="2.6" ry="2.1" fill="#a6cf4c"/>
<text x="434.35" y="262.00" font-size="7.7" font-weight="bold" stroke="#111" stroke-width="0.12" fill="#111" textLength="18.99" lengthAdjust="spacingAndGlyphs">L1236</text>
<line x1="408.2" y1="274.1" x2="425.5" y2="274.1" stroke="#5cb649" stroke-width="3.0"/>
<ellipse cx="416.85" cy="274.1" rx="2.6" ry="2.1" fill="#5cb649"/>
<text x="434.34" y="276.00" font-size="7.7" font-weight="bold" stroke="#111" stroke-width="0.12" fill="#111" textLength="22.28" lengthAdjust="spacingAndGlyphs">U-H01</text>
<line x1="408.2" y1="287.8" x2="425.5" y2="287.8" stroke="#188a3d" stroke-width="3.0"/>
<ellipse cx="416.85" cy="287.8" rx="2.6" ry="2.1" fill="#188a3d"/>
<text x="434.29" y="289.40" font-size="7.7" font-weight="bold" stroke="#111" stroke-width="0.12" fill="#111" textLength="23.91" lengthAdjust="spacingAndGlyphs">KM-H2</text>
<path d="M458.40,254.3 H461.0 V289.2 H458.40 M461.0,272.9 H463.20" fill="none" stroke="#111" stroke-width="1.3"/>
<text x="462.71" y="274.50" font-size="8.0" stroke="#111" stroke-width="0.28" fill="#111" textLength="12.31" lengthAdjust="spacingAndGlyphs">HL</text>
<text x="3.17" y="316.20" font-size="18.2" font-weight="bold" stroke="#000" stroke-width="0.12" fill="#000" textLength="12.81" lengthAdjust="spacingAndGlyphs">C</text>
<text x="25.18" y="328.80" font-size="8.0" stroke="#1e1e1e" stroke-width="0.28" fill="#1e1e1e" textLength="65.18" lengthAdjust="spacingAndGlyphs">U-H01 HL cell line</text>
<line x1="25.30" y1="453.38" x2="218.80" y2="453.38" stroke="#8c8c8c" stroke-width="1.4"/>
<line x1="25.30" y1="440.26" x2="218.80" y2="440.26" stroke="#8c8c8c" stroke-width="1.4"/>
<line x1="25.30" y1="427.14" x2="218.80" y2="427.14" stroke="#8c8c8c" stroke-width="1.4"/>
<line x1="25.30" y1="414.02" x2="218.80" y2="414.02" stroke="#8c8c8c" stroke-width="1.4"/>
<line x1="25.30" y1="400.90" x2="218.80" y2="400.90" stroke="#8c8c8c" stroke-width="1.4"/>
<line x1="25.30" y1="387.78" x2="218.80" y2="387.78" stroke="#8c8c8c" stroke-width="1.4"/>
<line x1="25.30" y1="374.66" x2="218.80" y2="374.66" stroke="#8c8c8c" stroke-width="1.4"/>
<line x1="25.30" y1="361.54" x2="218.80" y2="361.54" stroke="#8c8c8c" stroke-width="1.4"/>
<line x1="25.30" y1="348.42" x2="218.80" y2="348.42" stroke="#8c8c8c" stroke-width="1.4"/>
<line x1="25.30" y1="335.30" x2="218.80" y2="335.30" stroke="#8c8c8c" stroke-width="1.4"/>
<line x1="25.30" y1="335.30" x2="25.30" y2="466.50" stroke="#8c8c8c" stroke-width="1.4"/>
<line x1="25.30" y1="466.50" x2="218.80" y2="466.50" stroke="#8c8c8c" stroke-width="1.4"/>
<line x1="25.30" y1="466.50" x2="25.30" y2="469.30" stroke="#8c8c8c" stroke-width="1.2"/>
<line x1="57.55" y1="466.50" x2="57.55" y2="469.30" stroke="#8c8c8c" stroke-width="1.2"/>
<line x1="89.80" y1="466.50" x2="89.80" y2="469.30" stroke="#8c8c8c" stroke-width="1.2"/>
<line x1="122.05" y1="466.50" x2="122.05" y2="469.30" stroke="#8c8c8c" stroke-width="1.2"/>
<line x1="154.30" y1="466.50" x2="154.30" y2="469.30" stroke="#8c8c8c" stroke-width="1.2"/>
<line x1="186.55" y1="466.50" x2="186.55" y2="469.30" stroke="#8c8c8c" stroke-width="1.2"/>
<line x1="218.80" y1="466.50" x2="218.80" y2="469.30" stroke="#8c8c8c" stroke-width="1.2"/>
<line x1="22.70" y1="466.50" x2="25.30" y2="466.50" stroke="#8c8c8c" stroke-width="1.2"/>
<line x1="22.70" y1="453.38" x2="25.30" y2="453.38" stroke="#8c8c8c" stroke-width="1.2"/>
<line x1="22.70" y1="440.26" x2="25.30" y2="440.26" stroke="#8c8c8c" stroke-width="1.2"/>
<line x1="22.70" y1="427.14" x2="25.30" y2="427.14" stroke="#8c8c8c" stroke-width="1.2"/>
<line x1="22.70" y1="414.02" x2="25.30" y2="414.02" stroke="#8c8c8c" stroke-width="1.2"/>
<line x1="22.70" y1="400.90" x2="25.30" y2="400.90" stroke="#8c8c8c" stroke-width="1.2"/>
<line x1="22.70" y1="387.78" x2="25.30" y2="387.78" stroke="#8c8c8c" stroke-width="1.2"/>
<line x1="22.70" y1="374.66" x2="25.30" y2="374.66" stroke="#8c8c8c" stroke-width="1.2"/>
<line x1="22.70" y1="361.54" x2="25.30" y2="361.54" stroke="#8c8c8c" stroke-width="1.2"/>
<line x1="22.70" y1="348.42" x2="25.30" y2="348.42" stroke="#8c8c8c" stroke-width="1.2"/>
<line x1="22.70" y1="335.30" x2="25.30" y2="335.30" stroke="#8c8c8c" stroke-width="1.2"/>
<text x="19.41" y="467.70" font-size="7.4" stroke="#1e1e1e" stroke-width="0.28" fill="#1e1e1e" textLength="4.19" lengthAdjust="spacingAndGlyphs">0</text>
<text x="15.84" y="441.46" font-size="7.4" stroke="#1e1e1e" stroke-width="0.28" fill="#1e1e1e" textLength="7.73" lengthAdjust="spacingAndGlyphs">40</text>
<text x="15.69" y="415.22" font-size="7.4" stroke="#1e1e1e" stroke-width="0.28" fill="#1e1e1e" textLength="7.88" lengthAdjust="spacingAndGlyphs">80</text>
<text x="12.81" y="388.98" font-size="7.4" stroke="#1e1e1e" stroke-width="0.28" fill="#1e1e1e" textLength="10.74" lengthAdjust="spacingAndGlyphs">120</text>
<text x="12.81" y="362.74" font-size="7.4" stroke="#1e1e1e" stroke-width="0.28" fill="#1e1e1e" textLength="10.74" lengthAdjust="spacingAndGlyphs">160</text>
<text x="12.98" y="336.50" font-size="7.4" stroke="#1e1e1e" stroke-width="0.28" fill="#1e1e1e" textLength="10.57" lengthAdjust="spacingAndGlyphs">200</text>
<text x="39.43" y="476.50" font-size="7.8" stroke="#1e1e1e" stroke-width="0.28" fill="#1e1e1e" textLength="4.19" lengthAdjust="spacingAndGlyphs">0</text>
<text x="71.58" y="476.50" font-size="7.8" stroke="#1e1e1e" stroke-width="0.28" fill="#1e1e1e" textLength="4.39" lengthAdjust="spacingAndGlyphs">2</text>
<text x="104.06" y="476.50" font-size="7.8" stroke="#1e1e1e" stroke-width="0.28" fill="#1e1e1e" textLength="3.97" lengthAdjust="spacingAndGlyphs">4</text>
<text x="136.08" y="476.50" font-size="7.8" stroke="#1e1e1e" stroke-width="0.28" fill="#1e1e1e" textLength="4.34" lengthAdjust="spacingAndGlyphs">6</text>
<text x="168.39" y="476.50" font-size="7.8" stroke="#1e1e1e" stroke-width="0.28" fill="#1e1e1e" textLength="4.27" lengthAdjust="spacingAndGlyphs">8</text>
<text x="198.39" y="476.50" font-size="7.8" stroke="#1e1e1e" stroke-width="0.28" fill="#1e1e1e" textLength="8.48" lengthAdjust="spacingAndGlyphs">10</text>
<text x="69.60" y="486.25" font-size="7.0" font-weight="bold" stroke="#111" stroke-width="0.12" fill="#111" textLength="83.77" lengthAdjust="spacingAndGlyphs">Days after shREL-B induction</text>
<text x="6.00" y="455.14" font-size="7.6" stroke="#1e1e1e" stroke-width="0.28" fill="#1e1e1e" textLength="108.52" lengthAdjust="spacingAndGlyphs" transform="rotate(-90 6.00 455.14)">Live shRNA+ cells (% of Day 2)</text>
<polyline points="41.42,400.90 73.67,366.98 105.92,354.00 138.18,398.93 170.43,377.22 202.68,377.22" fill="none" stroke="#8cc34f" stroke-width="3.0" stroke-linejoin="round" stroke-linecap="round"/>
<circle cx="41.42" cy="400.90" r="3.6" fill="#8cc34f"/>
<circle cx="73.67" cy="366.98" r="3.6" fill="#8cc34f"/>
<circle cx="105.92" cy="354.00" r="3.6" fill="#8cc34f"/>
<circle cx="138.18" cy="398.93" r="3.6" fill="#8cc34f"/>
<circle cx="170.43" cy="377.22" r="3.6" fill="#8cc34f"/>
<circle cx="202.68" cy="377.22" r="3.6" fill="#8cc34f"/>
<polyline points="41.42,400.90 73.67,406.87 105.92,427.60 138.18,426.81 170.43,430.81 202.68,459.55" fill="none" stroke="#e1262b" stroke-width="3.0" stroke-linejoin="round" stroke-linecap="round"/>
<circle cx="41.42" cy="400.90" r="3.6" fill="#e1262b"/>
<circle cx="73.67" cy="406.87" r="3.6" fill="#e1262b"/>
<circle cx="105.92" cy="427.60" r="3.6" fill="#e1262b"/>
<circle cx="138.18" cy="426.81" r="3.6" fill="#e1262b"/>
<circle cx="170.43" cy="430.81" r="3.6" fill="#e1262b"/>
<circle cx="202.68" cy="459.55" r="3.6" fill="#e1262b"/>
<text x="223.40" y="317.60" font-size="17.6" font-weight="bold" stroke="#000" stroke-width="0.12" fill="#000" textLength="12.95" lengthAdjust="spacingAndGlyphs">D</text>
<text x="256.78" y="331.70" font-size="9.0" stroke="#1e1e1e" stroke-width="0.28" fill="#1e1e1e" textLength="69.80" lengthAdjust="spacingAndGlyphs">KM-H2 HLcell line</text>
<line x1="255.00" y1="449.41" x2="447.50" y2="449.41" stroke="#8c8c8c" stroke-width="1.4"/>
<line x1="255.00" y1="433.02" x2="447.50" y2="433.02" stroke="#8c8c8c" stroke-width="1.4"/>
<line x1="255.00" y1="416.64" x2="447.50" y2="416.64" stroke="#8c8c8c" stroke-width="1.4"/>
<line x1="255.00" y1="400.25" x2="447.50" y2="400.25" stroke="#8c8c8c" stroke-width="1.4"/>
<line x1="255.00" y1="383.86" x2="447.50" y2="383.86" stroke="#8c8c8c" stroke-width="1.4"/>
<line x1="255.00" y1="367.48" x2="447.50" y2="367.48" stroke="#8c8c8c" stroke-width="1.4"/>
<line x1="255.00" y1="351.09" x2="447.50" y2="351.09" stroke="#8c8c8c" stroke-width="1.4"/>
<line x1="255.00" y1="334.70" x2="447.50" y2="334.70" stroke="#8c8c8c" stroke-width="1.4"/>
<line x1="255.00" y1="334.70" x2="255.00" y2="465.80" stroke="#8c8c8c" stroke-width="1.4"/>
<line x1="255.00" y1="465.80" x2="447.50" y2="465.80" stroke="#8c8c8c" stroke-width="1.4"/>
<line x1="255.00" y1="465.80" x2="255.00" y2="468.60" stroke="#8c8c8c" stroke-width="1.2"/>
<line x1="303.12" y1="465.80" x2="303.12" y2="468.60" stroke="#8c8c8c" stroke-width="1.2"/>
<line x1="351.25" y1="465.80" x2="351.25" y2="468.60" stroke="#8c8c8c" stroke-width="1.2"/>
<line x1="399.38" y1="465.80" x2="399.38" y2="468.60" stroke="#8c8c8c" stroke-width="1.2"/>
<line x1="447.50" y1="465.80" x2="447.50" y2="468.60" stroke="#8c8c8c" stroke-width="1.2"/>
<line x1="252.40" y1="465.80" x2="255.00" y2="465.80" stroke="#8c8c8c" stroke-width="1.2"/>
<line x1="252.40" y1="449.41" x2="255.00" y2="449.41" stroke="#8c8c8c" stroke-width="1.2"/>
<line x1="252.40" y1="433.02" x2="255.00" y2="433.02" stroke="#8c8c8c" stroke-width="1.2"/>
<line x1="252.40" y1="416.64" x2="255.00" y2="416.64" stroke="#8c8c8c" stroke-width="1.2"/>
<line x1="252.40" y1="400.25" x2="255.00" y2="400.25" stroke="#8c8c8c" stroke-width="1.2"/>
<line x1="252.40" y1="383.86" x2="255.00" y2="383.86" stroke="#8c8c8c" stroke-width="1.2"/>
<line x1="252.40" y1="367.48" x2="255.00" y2="367.48" stroke="#8c8c8c" stroke-width="1.2"/>
<line x1="252.40" y1="351.09" x2="255.00" y2="351.09" stroke="#8c8c8c" stroke-width="1.2"/>
<line x1="252.40" y1="334.70" x2="255.00" y2="334.70" stroke="#8c8c8c" stroke-width="1.2"/>
<text x="248.69" y="467.40" font-size="7.4" stroke="#1e1e1e" stroke-width="0.28" fill="#1e1e1e" textLength="4.42" lengthAdjust="spacingAndGlyphs">0</text>
<text x="245.44" y="434.62" font-size="7.4" stroke="#1e1e1e" stroke-width="0.28" fill="#1e1e1e" textLength="7.63" lengthAdjust="spacingAndGlyphs">40</text>
<text x="245.30" y="401.85" font-size="7.4" stroke="#1e1e1e" stroke-width="0.28" fill="#1e1e1e" textLength="7.78" lengthAdjust="spacingAndGlyphs">80</text>
<text x="242.10" y="369.08" font-size="7.4" stroke="#1e1e1e" stroke-width="0.28" fill="#1e1e1e" textLength="10.96" lengthAdjust="spacingAndGlyphs">120</text>
<text x="242.10" y="336.30" font-size="7.4" stroke="#1e1e1e" stroke-width="0.28" fill="#1e1e1e" textLength="10.96" lengthAdjust="spacingAndGlyphs">160</text>
<text x="276.56" y="474.80" font-size="7.8" stroke="#1e1e1e" stroke-width="0.28" fill="#1e1e1e" textLength="5.00" lengthAdjust="spacingAndGlyphs">0</text>
<text x="324.56" y="474.80" font-size="7.8" stroke="#1e1e1e" stroke-width="0.28" fill="#1e1e1e" textLength="5.25" lengthAdjust="spacingAndGlyphs">2</text>
<text x="372.97" y="474.80" font-size="7.8" stroke="#1e1e1e" stroke-width="0.28" fill="#1e1e1e" textLength="4.75" lengthAdjust="spacingAndGlyphs">4</text>
<text x="420.81" y="474.80" font-size="7.8" stroke="#1e1e1e" stroke-width="0.28" fill="#1e1e1e" textLength="5.18" lengthAdjust="spacingAndGlyphs">6</text>
<text x="310.60" y="486.00" font-size="7.0" font-weight="bold" stroke="#111" stroke-width="0.12" fill="#111" textLength="83.77" lengthAdjust="spacingAndGlyphs">Days after shREL-B induction</text>
<text x="238.30" y="462.25" font-size="7.8" stroke="#1e1e1e" stroke-width="0.28" fill="#1e1e1e" textLength="109.93" lengthAdjust="spacingAndGlyphs" transform="rotate(-90 238.30 462.25)">Live shRNA+ cells (% of Day 2)</text>
<polyline points="279.06,383.86 327.19,405.66 375.31,352.73 423.44,377.31" fill="none" stroke="#3c9b48" stroke-width="3.0" stroke-linejoin="round" stroke-linecap="round"/>
<circle cx="279.06" cy="383.86" r="3.6" fill="#3c9b48"/>
<circle cx="327.19" cy="405.66" r="3.6" fill="#3c9b48"/>
<circle cx="375.31" cy="352.73" r="3.6" fill="#3c9b48"/>
<circle cx="423.44" cy="377.31" r="3.6" fill="#3c9b48"/>
<polyline points="279.06,383.86 327.19,369.93 375.31,449.41 423.44,446.13" fill="none" stroke="#e1262b" stroke-width="3.0" stroke-linejoin="round" stroke-linecap="round"/>
<circle cx="279.06" cy="383.86" r="3.6" fill="#e1262b"/>
<circle cx="327.19" cy="369.93" r="3.6" fill="#e1262b"/>
<circle cx="375.31" cy="449.41" r="3.6" fill="#e1262b"/>
<circle cx="423.44" cy="446.13" r="3.6" fill="#e1262b"/>
<line x1="456.2" y1="381.6" x2="474.2" y2="381.6" stroke="#7cbf4b" stroke-width="2"/>
<circle cx="465.3" cy="381.6" r="2.4" fill="#7cbf4b"/>
<text x="476.30" y="384.60" font-size="8.0" font-weight="bold" stroke="#111" stroke-width="0.12" fill="#111" textLength="45.40" lengthAdjust="spacingAndGlyphs">REL-B cDNA</text>
<line x1="456.2" y1="401.2" x2="474.6" y2="401.2" stroke="#e1262b" stroke-width="2"/>
<circle cx="465.4" cy="401.2" r="2.4" fill="#e1262b"/>
<text x="476.88" y="404.20" font-size="8.0" font-weight="bold" stroke="#111" stroke-width="0.12" fill="#111" textLength="13.23" lengthAdjust="spacingAndGlyphs">Ctlr</text>
<text x="106.33" y="523.30" font-size="18.2" font-weight="bold" stroke="#000" stroke-width="0.12" fill="#000" textLength="11.65" lengthAdjust="spacingAndGlyphs">E</text>
<text x="161.98" y="523.10" font-size="9.0" stroke="#1e1e1e" stroke-width="0.28" fill="#1e1e1e" textLength="141.01" lengthAdjust="spacingAndGlyphs">Hodgkin Lymphoma shRELA shREL</text>
<line x1="155.90" y1="633.95" x2="314.60" y2="633.95" stroke="#8c8c8c" stroke-width="1.4"/>
<line x1="155.90" y1="613.70" x2="314.60" y2="613.70" stroke="#8c8c8c" stroke-width="1.4"/>
<line x1="155.90" y1="593.45" x2="314.60" y2="593.45" stroke="#8c8c8c" stroke-width="1.4"/>
<line x1="155.90" y1="573.20" x2="314.60" y2="573.20" stroke="#8c8c8c" stroke-width="1.4"/>
<line x1="155.90" y1="552.95" x2="314.60" y2="552.95" stroke="#8c8c8c" stroke-width="1.4"/>
<line x1="155.90" y1="532.70" x2="314.60" y2="532.70" stroke="#8c8c8c" stroke-width="1.4"/>
<line x1="155.90" y1="532.70" x2="155.90" y2="654.20" stroke="#8c8c8c" stroke-width="1.4"/>
<line x1="155.90" y1="654.20" x2="314.60" y2="654.20" stroke="#8c8c8c" stroke-width="1.4"/>
<line x1="155.90" y1="654.20" x2="155.90" y2="656.80" stroke="#8c8c8c" stroke-width="1.2"/>
<line x1="178.57" y1="654.20" x2="178.57" y2="656.80" stroke="#8c8c8c" stroke-width="1.2"/>
<line x1="201.24" y1="654.20" x2="201.24" y2="656.80" stroke="#8c8c8c" stroke-width="1.2"/>
<line x1="223.91" y1="654.20" x2="223.91" y2="656.80" stroke="#8c8c8c" stroke-width="1.2"/>
<line x1="246.59" y1="654.20" x2="246.59" y2="656.80" stroke="#8c8c8c" stroke-width="1.2"/>
<line x1="269.26" y1="654.20" x2="269.26" y2="656.80" stroke="#8c8c8c" stroke-width="1.2"/>
<line x1="291.93" y1="654.20" x2="291.93" y2="656.80" stroke="#8c8c8c" stroke-width="1.2"/>
<line x1="314.60" y1="654.20" x2="314.60" y2="656.80" stroke="#8c8c8c" stroke-width="1.2"/>
<line x1="154.10" y1="654.20" x2="155.90" y2="654.20" stroke="#8c8c8c" stroke-width="1.2"/>
<text x="144.82" y="656.70" font-size="8.8" stroke="#1e1e1e" stroke-width="0.28" fill="#1e1e1e" textLength="5.47" lengthAdjust="spacingAndGlyphs">0</text>
<line x1="154.10" y1="633.95" x2="155.90" y2="633.95" stroke="#8c8c8c" stroke-width="1.2"/>
<text x="142.89" y="636.45" font-size="8.8" stroke="#1e1e1e" stroke-width="0.28" fill="#1e1e1e" textLength="9.03" lengthAdjust="spacingAndGlyphs">20</text>
<line x1="154.10" y1="613.70" x2="155.90" y2="613.70" stroke="#8c8c8c" stroke-width="1.2"/>
<text x="143.12" y="616.20" font-size="8.8" stroke="#1e1e1e" stroke-width="0.28" fill="#1e1e1e" textLength="8.79" lengthAdjust="spacingAndGlyphs">40</text>
<line x1="154.10" y1="593.45" x2="155.90" y2="593.45" stroke="#8c8c8c" stroke-width="1.2"/>
<text x="142.89" y="595.95" font-size="8.8" stroke="#1e1e1e" stroke-width="0.28" fill="#1e1e1e" textLength="9.03" lengthAdjust="spacingAndGlyphs">60</text>
<line x1="154.10" y1="573.20" x2="155.90" y2="573.20" stroke="#8c8c8c" stroke-width="1.2"/>
<text x="142.95" y="575.70" font-size="8.8" stroke="#1e1e1e" stroke-width="0.28" fill="#1e1e1e" textLength="8.97" lengthAdjust="spacingAndGlyphs">80</text>
<line x1="154.10" y1="552.95" x2="155.90" y2="552.95" stroke="#8c8c8c" stroke-width="1.2"/>
<text x="139.75" y="555.45" font-size="8.8" stroke="#1e1e1e" stroke-width="0.28" fill="#1e1e1e" textLength="12.14" lengthAdjust="spacingAndGlyphs">100</text>
<line x1="154.10" y1="532.70" x2="155.90" y2="532.70" stroke="#8c8c8c" stroke-width="1.2"/>
<text x="139.75" y="535.20" font-size="8.8" stroke="#1e1e1e" stroke-width="0.28" fill="#1e1e1e" textLength="12.14" lengthAdjust="spacingAndGlyphs">120</text>
<text x="165.09" y="665.00" font-size="8.6" stroke="#1e1e1e" stroke-width="0.28" fill="#1e1e1e" textLength="5.70" lengthAdjust="spacingAndGlyphs">0</text>
<text x="187.62" y="665.00" font-size="8.6" stroke="#1e1e1e" stroke-width="0.28" fill="#1e1e1e" textLength="5.98" lengthAdjust="spacingAndGlyphs">2</text>
<text x="210.61" y="665.00" font-size="8.6" stroke="#1e1e1e" stroke-width="0.28" fill="#1e1e1e" textLength="5.41" lengthAdjust="spacingAndGlyphs">4</text>
<text x="232.96" y="665.00" font-size="8.6" stroke="#1e1e1e" stroke-width="0.28" fill="#1e1e1e" textLength="5.91" lengthAdjust="spacingAndGlyphs">6</text>
<text x="255.72" y="665.00" font-size="8.6" stroke="#1e1e1e" stroke-width="0.28" fill="#1e1e1e" textLength="5.81" lengthAdjust="spacingAndGlyphs">8</text>
<text x="276.97" y="665.00" font-size="8.6" stroke="#1e1e1e" stroke-width="0.28" fill="#1e1e1e" textLength="8.37" lengthAdjust="spacingAndGlyphs">10</text>
<text x="299.63" y="665.00" font-size="8.6" stroke="#1e1e1e" stroke-width="0.28" fill="#1e1e1e" textLength="8.46" lengthAdjust="spacingAndGlyphs">12</text>
<text x="182.24" y="679.10" font-size="8.6" stroke="#1e1e1e" stroke-width="0.28" fill="#1e1e1e" textLength="83.80" lengthAdjust="spacingAndGlyphs">Days after shRNA induction</text>
<text x="135.40" y="635.84" font-size="9.4" stroke="#1e1e1e" stroke-width="0.28" fill="#1e1e1e" textLength="92.25" lengthAdjust="spacingAndGlyphs" transform="rotate(-90 135.40 635.84)">Live shRNA+ cells (% of Day 0)</text>
<polyline points="167.24,552.95 189.91,569.15 212.58,575.23 235.25,593.75 257.92,590.01 280.59,612.18 303.26,618.26" fill="none" stroke="#4b8bd0" stroke-width="2.7" stroke-linejoin="round" stroke-linecap="round"/>
<circle cx="167.24" cy="552.95" r="2.2" fill="#4b8bd0"/>
<circle cx="189.91" cy="569.15" r="2.2" fill="#4b8bd0"/>
<circle cx="212.58" cy="575.23" r="2.2" fill="#4b8bd0"/>
<circle cx="235.25" cy="593.75" r="2.2" fill="#4b8bd0"/>
<circle cx="257.92" cy="590.01" r="2.2" fill="#4b8bd0"/>
<circle cx="280.59" cy="612.18" r="2.2" fill="#4b8bd0"/>
<circle cx="303.26" cy="618.26" r="2.2" fill="#4b8bd0"/>
<polyline points="167.24,552.95 189.91,599.53 212.58,607.12 235.25,606.11 257.92,620.18 280.59,624.33 303.26,636.48" fill="none" stroke="#9ec5e8" stroke-width="2.7" stroke-linejoin="round" stroke-linecap="round"/>
<circle cx="167.24" cy="552.95" r="2.2" fill="#9ec5e8"/>
<circle cx="189.91" cy="599.53" r="2.2" fill="#9ec5e8"/>
<circle cx="212.58" cy="607.12" r="2.2" fill="#9ec5e8"/>
<circle cx="235.25" cy="606.11" r="2.2" fill="#9ec5e8"/>
<circle cx="257.92" cy="620.18" r="2.2" fill="#9ec5e8"/>
<circle cx="280.59" cy="624.33" r="2.2" fill="#9ec5e8"/>
<circle cx="303.26" cy="636.48" r="2.2" fill="#9ec5e8"/>
<polyline points="167.24,552.95 189.91,558.52 212.58,581.71 235.25,606.31 257.92,611.37 280.59,608.84 303.26,623.93" fill="none" stroke="#1b2463" stroke-width="2.7" stroke-linejoin="round" stroke-linecap="round"/>
<circle cx="167.24" cy="552.95" r="2.2" fill="#1b2463"/>
<circle cx="189.91" cy="558.52" r="2.2" fill="#1b2463"/>
<circle cx="212.58" cy="581.71" r="2.2" fill="#1b2463"/>
<circle cx="235.25" cy="606.31" r="2.2" fill="#1b2463"/>
<circle cx="257.92" cy="611.37" r="2.2" fill="#1b2463"/>
<circle cx="280.59" cy="608.84" r="2.2" fill="#1b2463"/>
<circle cx="303.26" cy="623.93" r="2.2" fill="#1b2463"/>
<polyline points="167.24,552.95 189.91,557.20 212.58,564.29 235.25,581.50 257.92,585.55 280.59,599.42 303.26,598.21" fill="none" stroke="#e5782a" stroke-width="2.7" stroke-linejoin="round" stroke-linecap="round"/>
<polygon points="167.24,550.53 169.44,554.71 165.04,554.71" fill="#e5782a"/>
<polygon points="189.91,554.78 192.11,558.96 187.71,558.96" fill="#e5782a"/>
<polygon points="212.58,561.87 214.78,566.05 210.38,566.05" fill="#e5782a"/>
<polygon points="235.25,579.08 237.45,583.26 233.05,583.26" fill="#e5782a"/>
<polygon points="257.92,583.13 260.12,587.31 255.72,587.31" fill="#e5782a"/>
<polygon points="280.59,597.00 282.79,601.18 278.39,601.18" fill="#e5782a"/>
<polygon points="303.26,595.79 305.46,599.97 301.06,599.97" fill="#e5782a"/>
<polyline points="167.24,552.95 189.91,598.82 212.58,627.88 235.25,638.00 257.92,645.29 280.59,646.91 303.26,647.92" fill="none" stroke="#dc9a9e" stroke-width="2.7" stroke-linejoin="round" stroke-linecap="round"/>
<rect x="165.04" y="550.75" width="4.4" height="4.4" fill="#dc9a9e"/>
<rect x="187.71" y="596.62" width="4.4" height="4.4" fill="#dc9a9e"/>
<rect x="210.38" y="625.67" width="4.4" height="4.4" fill="#dc9a9e"/>
<rect x="233.05" y="635.80" width="4.4" height="4.4" fill="#dc9a9e"/>
<rect x="255.72" y="643.09" width="4.4" height="4.4" fill="#dc9a9e"/>
<rect x="278.39" y="644.71" width="4.4" height="4.4" fill="#dc9a9e"/>
<rect x="301.06" y="645.72" width="4.4" height="4.4" fill="#dc9a9e"/>
<polyline points="167.24,552.95 189.91,570.67 212.58,608.84 235.25,601.85 257.92,615.42 280.59,625.24 303.26,637.80" fill="none" stroke="#e0202a" stroke-width="2.7" stroke-linejoin="round" stroke-linecap="round"/>
<circle cx="167.24" cy="552.95" r="2.2" fill="#e0202a"/>
<circle cx="189.91" cy="570.67" r="2.2" fill="#e0202a"/>
<circle cx="212.58" cy="608.84" r="2.2" fill="#e0202a"/>
<circle cx="235.25" cy="601.85" r="2.2" fill="#e0202a"/>
<circle cx="257.92" cy="615.42" r="2.2" fill="#e0202a"/>
<circle cx="280.59" cy="625.24" r="2.2" fill="#e0202a"/>
<circle cx="303.26" cy="637.80" r="2.2" fill="#e0202a"/>
<line x1="327.1" y1="548.80" x2="346.5" y2="548.80" stroke="#4b8bd0" stroke-width="2.9"/>
<ellipse cx="336.80" cy="548.80" rx="2.6" ry="2.2" fill="#4b8bd0"/>
<text x="348.37" y="551.50" font-size="8.2" stroke="#1e1e1e" stroke-width="0.28" fill="#1e1e1e" textLength="45.94" lengthAdjust="spacingAndGlyphs">L1236 REL-A</text>
<line x1="327.1" y1="562.30" x2="346.5" y2="562.30" stroke="#9ec5e8" stroke-width="2.9"/>
<ellipse cx="336.80" cy="562.30" rx="2.6" ry="2.2" fill="#9ec5e8"/>
<text x="348.42" y="566.50" font-size="8.2" stroke="#1e1e1e" stroke-width="0.28" fill="#1e1e1e" textLength="45.89" lengthAdjust="spacingAndGlyphs">U-H01 REL-A</text>
<line x1="327.1" y1="577.40" x2="346.5" y2="577.40" stroke="#1b2463" stroke-width="2.9"/>
<ellipse cx="336.80" cy="577.40" rx="2.6" ry="2.2" fill="#1b2463"/>
<text x="348.36" y="581.20" font-size="8.2" stroke="#1e1e1e" stroke-width="0.28" fill="#1e1e1e" textLength="49.05" lengthAdjust="spacingAndGlyphs">KM-H2 REL-A</text>
<line x1="328.9" y1="604.30" x2="346.5" y2="604.30" stroke="#e5782a" stroke-width="2.9"/>
<ellipse cx="337.70" cy="604.30" rx="2.6" ry="2.2" fill="#e5782a"/>
<text x="348.37" y="606.90" font-size="8.2" stroke="#1e1e1e" stroke-width="0.28" fill="#1e1e1e" textLength="44.99" lengthAdjust="spacingAndGlyphs">L1236 c-REL</text>
<line x1="328.9" y1="619.30" x2="346.5" y2="619.30" stroke="#dc9a9e" stroke-width="2.9"/>
<ellipse cx="337.70" cy="619.30" rx="2.6" ry="2.2" fill="#dc9a9e"/>
<text x="348.41" y="622.00" font-size="8.2" stroke="#1e1e1e" stroke-width="0.28" fill="#1e1e1e" textLength="45.34" lengthAdjust="spacingAndGlyphs">U-H01 c-REL</text>
<line x1="328.9" y1="633.80" x2="346.5" y2="633.80" stroke="#e0202a" stroke-width="2.9"/>
<ellipse cx="337.70" cy="633.80" rx="2.6" ry="2.2" fill="#e0202a"/>
<text x="348.38" y="636.60" font-size="8.2" stroke="#1e1e1e" stroke-width="0.28" fill="#1e1e1e" textLength="46.98" lengthAdjust="spacingAndGlyphs">KM-H2 c-REL</text>
</svg>
</body></html>
